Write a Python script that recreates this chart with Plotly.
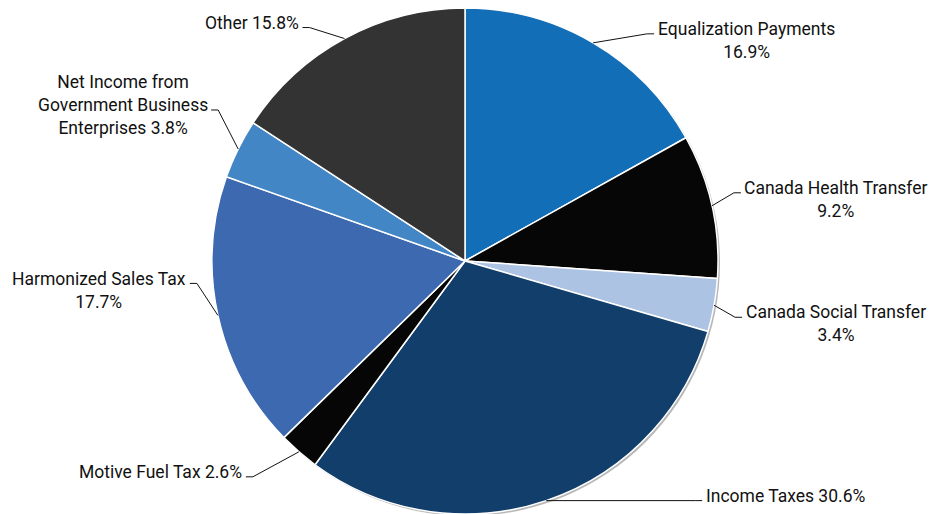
import math
import plotly.graph_objects as go

# Revenue shares (percent), listed clockwise from 12 o'clock
categories = [
    "Equalization Payments",
    "Canada Health Transfer",
    "Canada Social Transfer",
    "Income Taxes",
    "Motive Fuel Tax",
    "Harmonized Sales Tax",
    "Net Income from Government Business Enterprises",
    "Other",
]
shares = [16.9, 9.2, 3.4, 30.6, 2.6, 17.7, 3.8, 15.8]

# Text of each outside label (line breaks as drawn)
label_texts = [
    "Equalization Payments<br>16.9%",
    "Canada Health Transfer<br>9.2%",
    "Canada Social Transfer<br>3.4%",
    "Income Taxes 30.6%",
    "Motive Fuel Tax 2.6%",
    "Harmonized Sales Tax<br>17.7%",
    "Net Income from<br>Government Business<br>Enterprises 3.8%",
    "Other 15.8%",
]

slice_colors = ["#136eb8", "#060606", "#adc3e4", "#123e6b",
                "#060606", "#3d69b1", "#4286c6", "#333333"]

# ---- layout (pixels) ----
W, H = 932, 514
CX, CY, R = 465, 261, 253
FONT_SIZE = 17.5
LINE_H = FONT_SIZE * 1.3
TICK = 7
GAP = 1.5
# elbow of each leader line, offset from the slice's outer mid-point
ELBOW_OFFSETS = [(54, -9), (22, -13), (21, 12), (149, 0),
                 (-46, 25), (-21, -32), (-20, -39), (-35, -11)]
# which text line the leader tick sits under
ANCHOR_LINE = [0, 0, 0, 0, 0, 0, 1, 0]


def px(x):
    return x / W


def py(y):
    return 1 - y / H


fig = go.Figure()

fig.add_trace(go.Pie(
    labels=categories, values=shares, sort=False, direction="clockwise", rotation=0,
    marker=dict(colors=slice_colors, line=dict(color="white", width=1.5)),
    textinfo="none", showlegend=False,
    domain=dict(x=[px(CX - R), px(CX + R)], y=[max(0.0, py(CY + R)), py(CY - R)]),
))

# soft drop shadow under the disc
shapes = [dict(type="circle", xref="paper", yref="paper", layer="below",
               x0=px(CX - R + 2), x1=px(CX + R + 2), y0=py(CY + R + 2), y1=py(CY - R + 2),
               fillcolor="rgba(0,0,0,0.28)", line=dict(width=0))]
annotations = []
total = sum(shares)
cum = 0.0
for i, v in enumerate(shares):
    mid = (cum + v / 2) / total * 2 * math.pi
    cum += v
    ex = CX + R * math.sin(mid)
    ey = CY - R * math.cos(mid)
    dx, dy = ELBOW_OFFSETS[i]
    bx, by = ex + dx, ey + dy
    right = math.sin(mid) >= 0
    tx = bx + TICK if right else bx - TICK
    line_style = dict(color="#111111", width=1)
    shapes.append(dict(type="line", xref="paper", yref="paper",
                       x0=px(ex), y0=py(ey), x1=px(bx), y1=py(by), line=line_style))
    shapes.append(dict(type="line", xref="paper", yref="paper",
                       x0=px(bx), y0=py(by), x1=px(tx), y1=py(by), line=line_style))
    top = by - 4.5 - LINE_H / 2 - 1 - ANCHOR_LINE[i] * LINE_H
    annotations.append(dict(
        text=label_texts[i], xref="paper", yref="paper",
        x=px(tx + GAP if right else tx - GAP), y=py(top),
        xanchor="left" if right else "right", yanchor="top",
        align="center", showarrow=False,
        font=dict(family="Roboto", size=FONT_SIZE, color="#111111"),
    ))

fig.update_layout(
    width=W, height=H,
    margin=dict(l=0, r=0, t=0, b=0),
    paper_bgcolor="white", plot_bgcolor="white",
    shapes=shapes, annotations=annotations,
)

fig.write_html("out.html")
